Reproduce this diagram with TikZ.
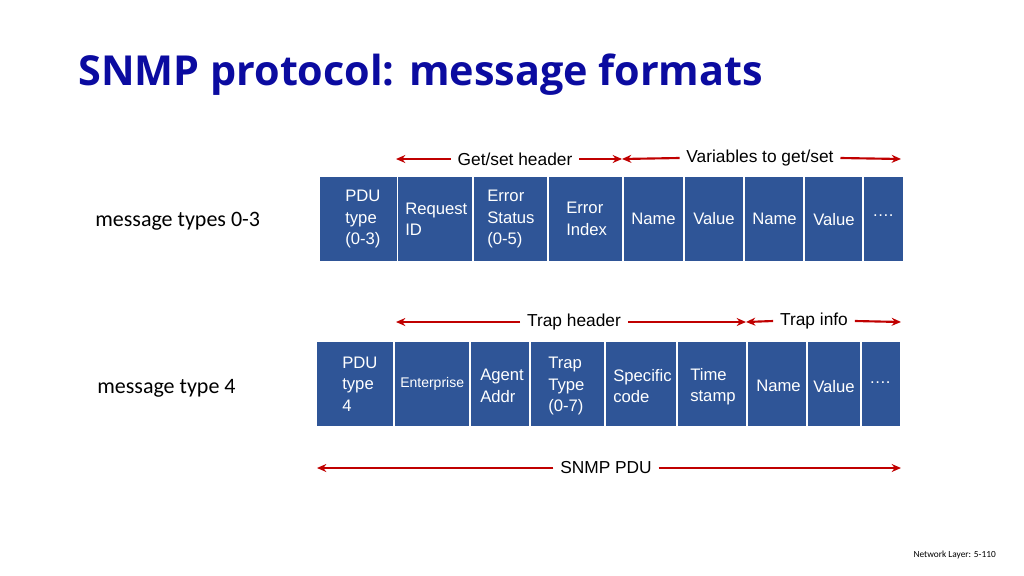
\documentclass[tikz,border=0pt]{standalone}
\usepackage{fontspec}
\setmainfont{Liberation Sans}
\newfontfamily\ttlfont{Open Sans}
\newfontfamily\carfont{Carlito}
\usetikzlibrary{arrows.meta}
\definecolor{cellblue}{HTML}{2F5597}
\definecolor{ttlblue}{HTML}{0B0BA0}
\definecolor{arr}{HTML}{C00000}
\begin{document}
\begin{tikzpicture}[x=0.75pt,y=-0.75pt,
  cell/.style={fill=cellblue,draw=none},
  ct/.style={text=white,font=\fontsize{12.5}{16}\selectfont,align=left,anchor=west,inner sep=0pt},
  lab/.style={font=\fontsize{13}{15}\selectfont,inner sep=0pt},
  ar/.style={draw=arr,line width=1.6pt,-{Stealth[length=7pt,width=6pt]}}]
\useasboundingbox (0,0) rectangle (1024,575);
\node[anchor=west,text=ttlblue,font=\ttlfont\bfseries\fontsize{31}{36}\selectfont,inner sep=0pt] (title) at (78,75) {SNMP protocol: message formats};
\node[anchor=west,font=\carfont\fontsize{16.5}{20}\selectfont,inner sep=0pt] (m1) at (95,221) {message types 0-3};
\node[anchor=west,font=\carfont\fontsize{16.5}{20}\selectfont,inner sep=0pt] (m2) at (97,388) {message type 4};
% top row
\foreach \a/\b/\n in {320/397/a1,398/472/a2,474/547/a3,549/622/a4,624/683/a5,685/743/a6,745/803/a7,805/862/a8,864/903/a9}
  \path[cell] (\a,177) rectangle (\b,261) coordinate (\n);
\node[ct] (t1) at (345,219) {PDU\\type\\(0-3)};
\node[ct] (t2) at (405,219) {Request\\ID};
\node[ct] (t3) at (487,219) {Error\\Status\\(0-5)};
\node[ct] (t4) at (566,219) {Error\\Index};
\node[ct] (t5) at (631,219) {Name};
\node[ct] (t6) at (693,219) {Value};
\node[ct] (t7) at (752,219) {Name};
\node[ct] (t8) at (813,220) {Value};
\node[ct] (t9) at (872,216) {\dots.};
% bottom row
\foreach \a/\b/\n in {317/393/b1,395/469/b2,471/529/b3,531/604/b4,606/676/b5,678/746/b6,748/806/b7,808/860/b8,862/900/b9}
  \path[cell] (\a,342) rectangle (\b,426) coordinate (\n);
\node[ct] (u1) at (342,384) {PDU\\type\\4};
\node[ct,font=\fontsize{10.5}{13}\selectfont] (u2) at (400,384) {Enterprise};
\node[ct] (u3) at (480,386) {Agent\\Addr};
\node[ct] (u4) at (548,386) {Trap\\Type\\(0-7)};
\node[ct] (u5) at (613,386) {Specific\\code};
\node[ct] (u6) at (690,387) {Time\\stamp};
\node[ct] (u7) at (756,386) {Name};
\node[ct] (u8) at (813,387) {Value};
\node[ct] (u9) at (869,383) {\dots.};
% labels and arrows
\node[lab] (g) at (515,159) {Get/set header};
\node[lab] (v) at (760,158) {Variables to get/set};
\node[lab] (th) at (574,322) {Trap header};
\node[lab] (ti) at (814,321) {Trap info};
\node[lab] (sp) at (606,468) {SNMP PDU};
\coordinate (g1) at (396,159); \coordinate (g2) at (622,159);
\coordinate (v1) at (622,159); \coordinate (v2) at (901,159);
\coordinate (h1) at (396,322); \coordinate (h2) at (746,322);
\coordinate (i1) at (746,322); \coordinate (i2) at (901,322);
\coordinate (s1) at (317,468); \coordinate (s2) at (901,468);
\draw[ar] ([xshift=-5pt]g.west) -- (g1);
\draw[ar] ([xshift=5pt]g.east) -- (g2);
\draw[ar] ([xshift=-5pt]v.west) -- (v1);
\draw[ar] ([xshift=5pt]v.east) -- (v2);
\draw[ar] ([xshift=-5pt]th.west) -- (h1);
\draw[ar] ([xshift=5pt]th.east) -- (h2);
\draw[ar] ([xshift=-5pt]ti.west) -- (i1);
\draw[ar] ([xshift=5pt]ti.east) -- (i2);
\draw[ar] ([xshift=-5pt]sp.west) -- (s1);
\draw[ar] ([xshift=5pt]sp.east) -- (s2);
\node[anchor=east,font=\carfont\fontsize{7}{8}\selectfont,inner sep=0pt] (ft) at (996,555) {Network Layer: 5-110};
\end{tikzpicture}
\end{document}
